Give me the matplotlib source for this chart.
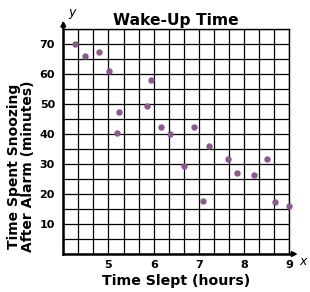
import matplotlib.pyplot as plt
import numpy as np

# Data
hours_slept = [4.25, 4.47, 4.79, 5.02, 5.23, 5.19, 5.93, 5.85, 6.16, 6.35,
               6.90, 7.22, 6.66, 7.08, 7.65, 7.85, 8.23, 8.51, 8.69, 9.0]
snooze_minutes = [70, 66, 67.5, 61, 47.5, 40.5, 58, 49.5, 42.3, 40,
                  42.3, 36, 29.2, 17.7, 31.6, 27, 26.2, 31.6, 17.2, 16]
x_ticks = [5, 6, 7, 8, 9]
y_ticks = [10, 20, 30, 40, 50, 60, 70]

fig = plt.figure(figsize=(3.1, 2.92), dpi=100)
ax = fig.add_axes([63.3 / 310, 38 / 292, 226 / 310, 225 / 292])

ax.set_xlim(4, 9)
ax.set_ylim(0, 75)

# grid: one cell = 1/3 hour by 5 minutes
for gx in np.arange(4, 9.01, 1 / 3):
    ax.axvline(gx, color="black", linewidth=0.9, zorder=1)
for gy in np.arange(0, 75.1, 5):
    ax.axhline(gy, color="black", linewidth=0.9, zorder=1)
ax.tick_params(which="both", length=0)
ax.set_xticks(x_ticks)
ax.set_yticks(y_ticks)
ax.set_xticklabels([str(t) for t in x_ticks], fontsize=8, fontweight="bold")
ax.set_yticklabels([str(t) for t in y_ticks], fontsize=8, fontweight="bold")
ax.tick_params(axis="x", pad=4)
ax.tick_params(axis="y", pad=6)

for side in ["top", "right"]:
    ax.spines[side].set_linewidth(1.0)
for side in ["left", "bottom"]:
    ax.spines[side].set_linewidth(1.8)

ax.scatter(hours_slept, snooze_minutes, s=13, color="#8a5a8c", zorder=3,
           clip_on=False)

ax.set_title("Wake-Up Time", fontsize=11.2, fontweight="bold", pad=3)
ax.set_xlabel("Time Slept (hours)", fontsize=10.2, fontweight="bold", labelpad=3.5)
ax.set_ylabel("Time Spent Snoozing\nAfter Alarm (minutes)", fontsize=10,
              fontweight="bold", linespacing=1.0)
ax.yaxis.set_label_coords(-0.125, 0.39)

# axis arrows
ax.annotate("", xy=(0, 1.05), xytext=(0, 0.99), xycoords="axes fraction",
            arrowprops=dict(arrowstyle="-|>", color="black", lw=1.5,
                            mutation_scale=7))
ax.annotate("", xy=(1.05, 0), xytext=(0.99, 0), xycoords="axes fraction",
            arrowprops=dict(arrowstyle="-|>", color="black", lw=1.5,
                            mutation_scale=7))
ax.text(0.02, 1.075, "y", transform=ax.transAxes, fontsize=9,
        style="italic", ha="left", va="center")
ax.text(1.045, -0.035, "x", transform=ax.transAxes, fontsize=9,
        style="italic", ha="left", va="center")

fig.savefig("out.png", dpi=100)
